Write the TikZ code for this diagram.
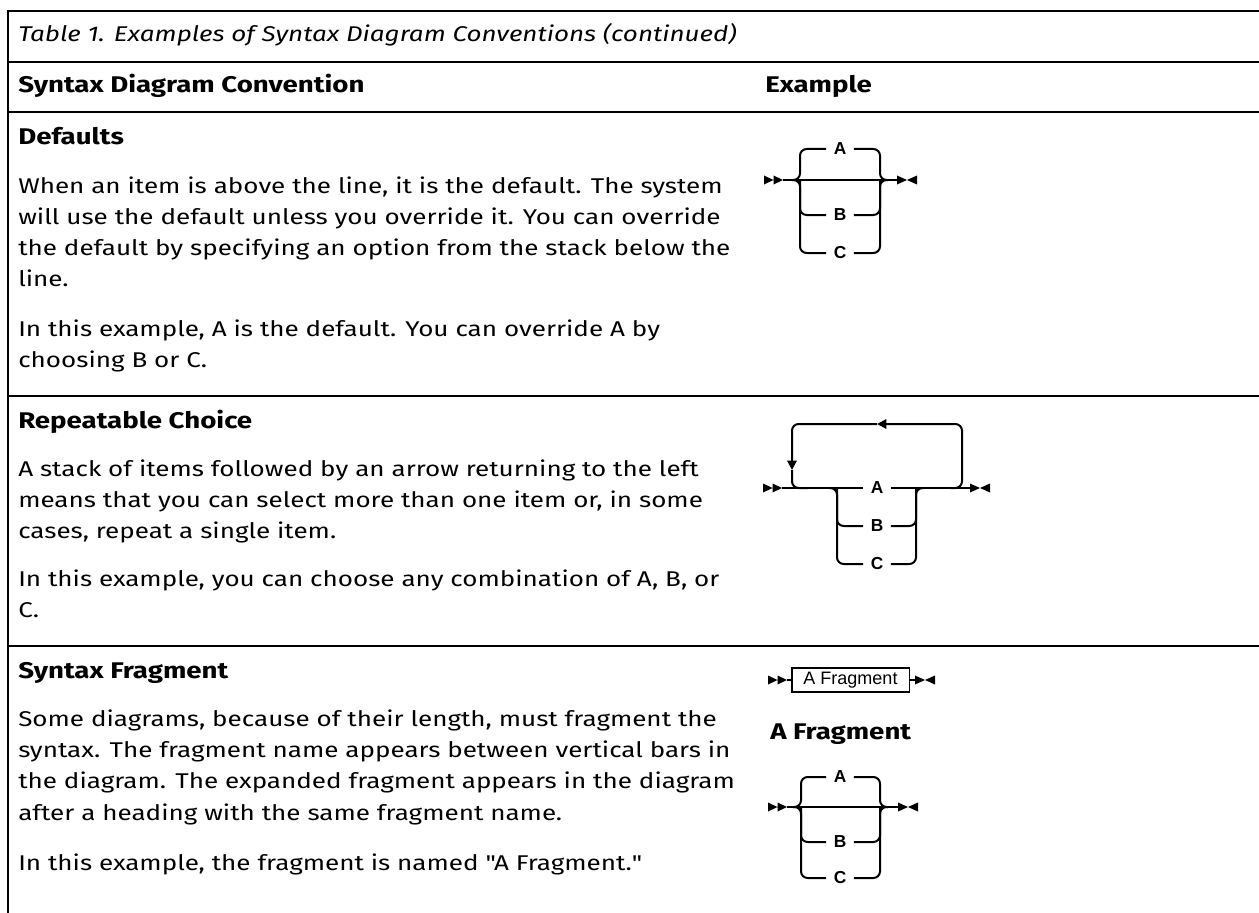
\documentclass[tikz,border=0pt]{standalone}
\usepackage{fontspec}
\setmainfont{Fira Sans}[FakeStretch=1.22]
\newfontfamily\railfont{Liberation Sans}
\usetikzlibrary{arrows.meta}

\begin{document}
\begin{tikzpicture}[x=0.75pt, y=-0.75pt,
	font=\fontsize{16}{18}\selectfont,
	txt/.style={anchor=base west, inner sep=0pt},
	head/.style={txt, font=\fontsize{17}{18}\selectfont\bfseries},
	rule/.style={line width=2pt},
	rail/.style={line width=1.5pt, rounded corners=5pt},
	item/.style={inner xsep=5.5pt, inner ysep=0pt, font=\railfont\bfseries\fontsize{13}{13}\selectfont},
	backarrow/.style={rail, -{Triangle[length=7pt, width=7pt]}},
	startmark/.pic={\fill (-19, -4.5) -- (-9.5, 0) -- (-19, 4.5) -- cycle (-9.5, -4.5) -- (0, 0) -- (-9.5, 4.5) -- cycle;},
	endmark/.pic={\fill (0, -4.5) -- (10, 0) -- (0, 4.5) -- cycle (20, -4.5) -- (10, 0) -- (20, 4.5) -- cycle;}
	]
	\useasboundingbox (0, 0) rectangle (1259, 913);
	\draw[rule] (1259, 11) -- (8, 11) -- (8, 913);
	\foreach \y in {62, 112, 396, 646} \draw[rule] (8, \y) -- (1259, \y);

	\node[txt, font=\fontsize{16}{18}\selectfont\itshape] (cap)at(18, 42) {Table 1. Examples of Syntax Diagram Conventions (continued)};
	\node[head] (hconv)at(18, 93) {Syntax Diagram Convention};
	\node[head] (hex)at(765, 93) {Example};

	\node[head] (hdef)at(18, 145) {Defaults};
	\node[txt] (def1)at(18, 193) {When an item is above the line, it is the default. The system};
	\node[txt] (def2)at(18, 224) {will use the default unless you override it. You can override};
	\node[txt] (def3)at(18, 255) {the default by specifying an option from the stack below the};
	\node[txt] (def4)at(18, 286) {line.};
	\node[txt] (def5)at(18, 336) {In this example, A is the default. You can override A by};
	\node[txt] (def6)at(18, 367) {choosing B or C.};

	\node[head] (hrep)at(18, 428) {Repeatable Choice};
	\node[txt] (rep1)at(18, 476) {A stack of items followed by an arrow returning to the left};
	\node[txt] (rep2)at(18, 507) {means that you can select more than one item or, in some};
	\node[txt] (rep3)at(18, 538) {cases, repeat a single item.};
	\node[txt] (rep4)at(18, 586) {In this example, you can choose any combination of A, B, or};
	\node[txt] (rep5)at(18, 617) {C.};

	\node[head] (hfrag)at(18, 678) {Syntax Fragment};
	\node[txt] (frag1)at(18, 726) {Some diagrams, because of their length, must fragment the};
	\node[txt] (frag2)at(18, 757) {syntax. The fragment name appears between vertical bars in};
	\node[txt] (frag3)at(18, 788) {the diagram. The expanded fragment appears in the diagram};
	\node[txt] (frag4)at(18, 820) {after a heading with the same fragment name.};
	\node[txt] (frag5)at(18, 870) {In this example, the fragment is named \textquotedbl A Fragment.\textquotedbl};

	\coordinate (ds)at(783, 180);
	\coordinate (de)at(897, 180);
	\coordinate (dl)at(800, 180);
	\coordinate (dr)at(880, 180);
	\node[item] (dA)at(840, 149) {A};
	\node[item] (dB)at(840, 215) {B};
	\node[item] (dC)at(840, 253) {C};
	\pic at (ds) {startmark};
	\pic at (de) {endmark};
	\draw[rail] (ds) -- (de);
	\foreach \n in {dA, dC} {
		\draw[rail] (\n.west) -| (dl) -- ++(-8, 0);
		\draw[rail] (\n.east) -| (dr) -- ++(8, 0);
	}
	\draw[rail] (dB.west) -| (dl);
	\draw[rail] (dB.east) -| (dr);

	\coordinate (rs)at(782, 488);
	\coordinate (re)at(970, 488);
	\coordinate (rl)at(837, 488);
	\coordinate (rr)at(916, 488);
	\coordinate (lpin)at(950, 488);
	\coordinate (lpne)at(962, 424);
	\coordinate (lpnw)at(792, 424);
	\coordinate (lptop)at(877, 424);
	\coordinate (lpleft)at(792, 470);
	\coordinate (lpout)at(808, 488);
	\node[item] (rA)at(877, 488) {A};
	\node[item] (rB)at(877, 526) {B};
	\node[item] (rC)at(877, 564) {C};
	\pic at (rs) {startmark};
	\pic at (re) {endmark};
	\draw[rail] (rs) -- (rA.west);
	\draw[rail] (rA.east) -- (re);
	\draw[rail] (rC.west) -| (rl) -- ++(-8, 0);
	\draw[rail] (rC.east) -| (rr) -- ++(8, 0);
	\draw[rail] (rB.west) -| (rl);
	\draw[rail] (rB.east) -| (rr);
	\draw[backarrow] (lpin) -| (lpne) -- (lptop);
	\draw[backarrow] (lptop) -- (lpnw) -- (lpleft);
	\draw[rail] (lpleft) |- (lpout);

	\coordinate (fs)at(787, 680);
	\coordinate (fe)at(915, 680);
	\node[draw, line width=1pt, minimum width=88pt, minimum height=18pt, inner sep=0pt, font=\railfont\fontsize{13.5}{13.5}\selectfont] (fbox)at(850.5, 680) {A Fragment};
	\pic at (fs) {startmark};
	\pic at (fe) {endmark};
	\draw[rail] (fs) -- (fbox.west);
	\draw[rail] (fbox.east) -- (fe);

	\node[head] (hfbox)at(770, 739) {A Fragment};

	\coordinate (xs)at(787, 807);
	\coordinate (xe)at(898, 807);
	\coordinate (xl)at(801, 807);
	\coordinate (xr)at(880, 807);
	\node[item] (xA)at(840, 777) {A};
	\node[item] (xB)at(840, 842) {B};
	\node[item] (xC)at(840, 878) {C};
	\pic at (xs) {startmark};
	\pic at (xe) {endmark};
	\draw[rail] (xs) -- (xe);
	\foreach \n in {xA, xC} {
		\draw[rail] (\n.west) -| (xl) -- ++(-8, 0);
		\draw[rail] (\n.east) -| (xr) -- ++(8, 0);
	}
	\draw[rail] (xB.west) -| (xl);
	\draw[rail] (xB.east) -| (xr);
\end{tikzpicture}
\end{document}
